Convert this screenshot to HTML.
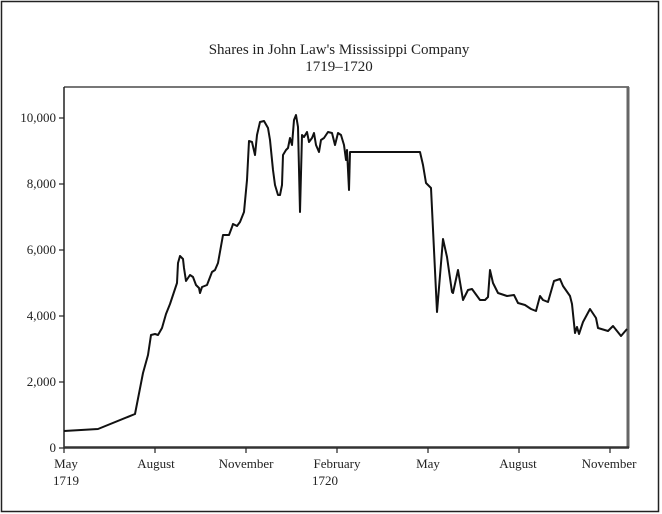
<!DOCTYPE html>
<html><head><style>
html,body{margin:0;padding:0;background:#fff;}
svg{display:block;font-family:"Liberation Serif",serif;}
</style></head><body>
<svg width="662" height="514" viewBox="0 0 662 514">
<rect x="1.5" y="1.5" width="657" height="510" fill="none" stroke="#222" stroke-width="1.5"/>
<text x="339" y="54" font-size="15" text-anchor="middle" fill="#222">Shares in John Law's Mississippi Company</text>
<text x="339" y="71" font-size="15" text-anchor="middle" fill="#222">1719–1720</text>
<line x1="64" y1="87" x2="629" y2="87" stroke="#777" stroke-width="2"/>
<line x1="628" y1="87" x2="628" y2="448" stroke="#666" stroke-width="3"/>
<line x1="64" y1="87" x2="64" y2="448" stroke="#222" stroke-width="1.5"/>
<line x1="64" y1="447.5" x2="629" y2="447.5" stroke="#333" stroke-width="2.5"/>
<g stroke="#222" stroke-width="1.2">
<line x1="59" y1="118" x2="64" y2="118"/><line x1="59" y1="184" x2="64" y2="184"/><line x1="59" y1="250" x2="64" y2="250"/><line x1="59" y1="316" x2="64" y2="316"/><line x1="59" y1="382" x2="64" y2="382"/><line x1="59" y1="448" x2="64" y2="448"/>
<line x1="64" y1="448" x2="64" y2="453"/><line x1="155" y1="448" x2="155" y2="453"/><line x1="246" y1="448" x2="246" y2="453"/><line x1="337" y1="448" x2="337" y2="453"/><line x1="428" y1="448" x2="428" y2="453"/><line x1="519" y1="448" x2="519" y2="453"/><line x1="610" y1="448" x2="610" y2="453"/>
</g>
<g font-size="13" fill="#222" text-anchor="end">
<text x="56" y="122">10,000</text><text x="56" y="188">8,000</text><text x="56" y="254">6,000</text><text x="56" y="320">4,000</text><text x="56" y="386">2,000</text><text x="56" y="452">0</text>
</g>
<g font-size="13" fill="#222" text-anchor="middle">
<text x="66" y="468">May</text><text x="66" y="485">1719</text>
<text x="156" y="468">August</text><text x="246" y="468">November</text>
<text x="337" y="468">February</text><text x="325" y="485">1720</text>
<text x="428" y="468">May</text><text x="518" y="468">August</text><text x="609" y="468">November</text>
</g>
<polyline fill="none" stroke="#111" stroke-width="2" stroke-linejoin="round" points="64,431 98,429 135,414 143,373 148,355 151,335 155,334 158,335 162,328 166,314 170,304 177,283 178,263 180,256 183,259 184,268 186,281 190,275 193,277 196,285 199,288 200,293 202,287 207,285 212,272 215,270 218,263 223,235 229,235 232,227 233,224 237,226 240,222 244,212 247,180 249,141 252,142 255,155 257,135 260,122 264,121 268,128 270,140 273,170 275,185 278,195 280,195 282,185 283,155 286,150 288,148 290,138 292,145 294,120 296,115 298,127 300,212 302,135 304,137 307,132 309,142 312,138 314,133 316,145 319,152 321,140 324,138 328,132 332,133 335,145 338,133 341,135 344,145 346,160 347,150 349,190 350,152 420,152 423,165 426,183 431,188 437,312 443,239 447,257 452,292 453,293 458,270 463,300 465,296 468,290 472,289 480,300 485,300 488,297 490,270 493,283 498,293 507,296 514,295 518,303 525,305 531,309 536,311 540,296 543,300 548,302 554,281 560,279 563,286 570,296 572,304 575,333 577,327 579,334 583,322 590,309 596,318 598,328 608,331 613,326 621,336 627,329"/>
</svg>
</body></html>
